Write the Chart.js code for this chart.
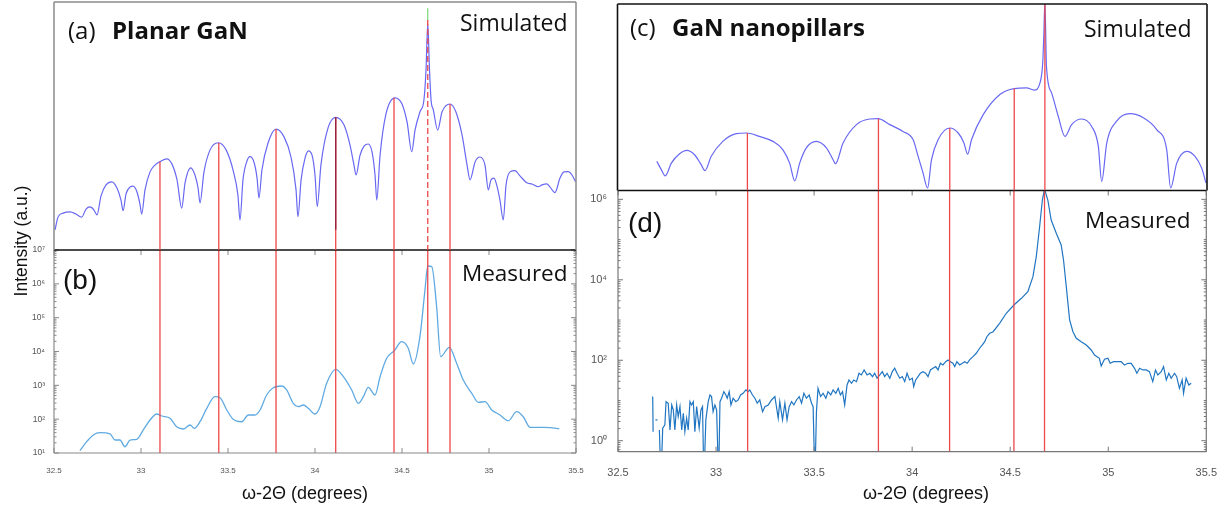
<!DOCTYPE html>
<html>
<head>
<meta charset="utf-8">
<script src="https://cdn.jsdelivr.net/npm/chart.js@4/dist/chart.umd.min.js"></script>
<style>
  html, body { margin: 0; padding: 0; background: #fff; }
  #fig { position: relative; width: 1224px; height: 507px; overflow: hidden; }
  canvas { position: absolute; top: 0; }
  .lbl { position: absolute; white-space: nowrap; line-height: 1; color: #111; }
  .os { font-family: "Open Sans", sans-serif; }
  .ar { font-family: "Liberation Sans", Arial, sans-serif; }
</style>
</head>
<body>
<div id="fig">
  <canvas id="cB" width="600" height="507" style="left:0"></canvas>
  <canvas id="cA" width="600" height="507" style="left:0"></canvas>
  <canvas id="cD" width="644" height="507" style="left:580px"></canvas>
  <canvas id="cC" width="644" height="507" style="left:580px"></canvas>

  <div class="lbl os" style="left:68px;top:18px;font-size:24px">(a)</div>
  <div class="lbl os" style="left:112px;top:18px;font-size:24px;font-weight:700">Planar GaN</div>
  <div class="lbl os" style="left:460px;top:11px;font-size:23px">Simulated</div>
  <div class="lbl ar" style="left:63px;top:266px;font-size:28px">(b)</div>
  <div class="lbl os" style="left:462px;top:262px;font-size:22.5px">Measured</div>

  <div class="lbl os" style="left:630px;top:15px;font-size:24px">(c)</div>
  <div class="lbl os" style="left:672px;top:15px;font-size:24px;font-weight:700">GaN nanopillars</div>
  <div class="lbl os" style="left:1084px;top:17px;font-size:23px">Simulated</div>
  <div class="lbl ar" style="left:628px;top:209px;font-size:28px">(d)</div>
  <div class="lbl os" style="left:1085px;top:209px;font-size:22.5px">Measured</div>

  <div class="lbl ar" style="left:22px;top:241px;font-size:17.5px;transform:translate(-50%,-50%) rotate(-90deg)">Intensity (a.u.)</div>
  <div class="lbl ar" style="left:305px;top:493px;font-size:18px;transform:translate(-50%,-50%)">ω-2Θ (degrees)</div>
  <div class="lbl ar" style="left:926px;top:493px;font-size:18px;transform:translate(-50%,-50%)">ω-2Θ (degrees)</div>
</div>

<script>
// ---- shared axis values ----
const angleTicks = [32.5, 33, 33.5, 34, 34.5, 35, 35.5];
const planarDecades = [1, 2, 3, 4, 5, 6, 7];
const pillarDecades = [0, 2, 4, 6];

// ---- (a) planar GaN, simulated (log10 intensity, arbitrary offset) ----
const simPlanarX = [32.506,32.523,32.552,32.592,32.626,32.659,32.684,32.707,32.730,32.747,
  32.770,32.799,32.832,32.862,32.885,32.897,32.914,32.937,32.954,32.977,
  32.994,33.004,33.023,33.052,33.080,33.109,33.148,33.178,33.207,33.234,
  33.253,33.286,33.310,33.328,33.339,33.362,33.397,33.444,33.489,33.529,
  33.557,33.569,33.586,33.609,33.626,33.649,33.667,33.678,33.695,33.730,
  33.776,33.822,33.862,33.891,33.902,33.920,33.943,33.962,33.983,34.000,
  34.013,34.034,34.075,34.119,34.167,34.201,34.224,34.236,34.259,34.282,
  34.306,34.328,34.345,34.355,34.374,34.408,34.460,34.500,34.529,34.556,
  34.575,34.603,34.626,34.638,34.648,34.658,34.667,34.680,34.705,34.730,
  34.776,34.810,34.845,34.874,34.891,34.920,34.948,34.977,34.996,35.011,
  35.029,35.046,35.063,35.082,35.098,35.121,35.149,35.178,35.217,35.247,
  35.283,35.305,35.332,35.351,35.379,35.408,35.431,35.456,35.477,35.498];
const simPlanarY = [0.65,1.06,1.19,1.23,1.16,1.06,1.32,1.39,1.29,1.13,
  1.74,2.10,2.20,2.00,1.61,1.27,1.81,2.03,2.06,1.87,
  1.48,1.16,1.94,2.52,2.74,2.85,2.94,2.77,2.26,1.35,
  2.16,2.65,2.42,2.00,1.52,2.52,3.23,3.46,3.23,2.58,
  1.77,0.97,2.26,2.87,3.01,2.84,2.32,1.68,2.58,3.45,
  3.90,3.65,3.00,1.94,1.07,2.26,2.97,3.20,3.06,2.42,
  1.40,2.74,3.94,4.28,4.03,3.39,2.74,2.42,3.06,3.35,
  3.42,3.16,2.42,1.61,3.06,4.39,4.91,4.71,4.13,3.17,
  3.87,4.45,4.84,5.81,7.31,5.81,4.84,4.52,3.87,4.45,
  4.71,4.45,3.71,2.74,2.26,2.84,3.00,2.74,1.94,2.26,
  2.32,2.06,1.61,0.97,2.10,2.52,2.56,2.39,2.17,2.13,
  2.04,2.10,2.13,2.03,1.85,2.32,2.52,2.53,2.42,2.20];

// ---- (b) planar GaN, measured counts ----
const measPlanarX = [32.649,32.688,32.726,32.764,32.822,32.851,32.879,32.908,32.937,32.975,
  33.013,33.052,33.090,33.119,33.167,33.205,33.243,33.282,33.306,33.339,
  33.378,33.425,33.454,33.493,33.530,33.579,33.617,33.655,33.684,33.722,
  33.760,33.809,33.837,33.875,33.904,33.933,33.962,34.000,34.029,34.067,
  34.119,34.163,34.211,34.249,34.278,34.306,34.345,34.374,34.412,34.456,
  34.498,34.536,34.565,34.603,34.632,34.648,34.671,34.699,34.722,34.772,
  34.814,34.852,34.901,34.939,34.977,35.016,35.063,35.111,35.159,35.197,
  35.236,35.312,35.351,35.404];
const measPlanarY = [11.7,21.6,34,39.8,36.5,24.2,24.2,15.3,24.2,25.4,
  47.9,94.4,142,124,106,59.8,51.2,67.3,53.7,84.1,
  209,461,431,187,99,84,133,133,187,518,
  851,955,728,294,234,262,209,142,234,1148,
  2979,1799,728,294,461,875,518,1799,6295,10570,
  19500,12450,4276,27400,658000,3370000,3210000,211000,7030,13300,
  4490,1439,582,315,328,187,133,90,166,118,
  57.5,57.5,56,52];

// fringe positions marked on (a)/(b), with the simulated peak height each starts from
const planarFringeX = [33.109, 33.447, 33.776, 34.119, 34.454, 34.648, 34.776];
const planarFringeTop = [2.85, 3.46, 3.90, 4.28, 4.91, 7.42, 4.71];
const planarMainPeak = 5;               // index of the substrate peak (dashed in (a))
const planarPeakTip = [7.42, 7.80];     // short green tip above the substrate peak
const planarDarkFringe = 3;             // fringe drawn darker in its upper part
const planarDarkFloor = 0.65;

// ---- (c) GaN nanopillars, simulated (log10 intensity, arbitrary offset) ----
const simPillarX = [32.700,32.723,32.743,32.774,32.816,32.853,32.892,32.926,32.945,32.977,
  33.036,33.105,33.156,33.223,33.291,33.342,33.376,33.402,33.427,33.461,
  33.512,33.563,33.597,33.609,33.648,33.716,33.784,33.826,33.886,33.953,
  34.004,34.030,34.055,34.078,34.098,34.132,34.191,34.234,34.263,34.282,
  34.302,34.361,34.446,34.519,34.582,34.621,34.650,34.664,34.670,34.675,
  34.683,34.709,34.743,34.777,34.811,34.862,34.913,34.947,34.964,34.990,
  35.040,35.108,35.176,35.244,35.295,35.315,35.346,35.397,35.439,35.473,35.495];
const simPillarY = [0.94,0.67,0.47,0.88,1.18,1.29,1.15,0.83,0.64,1.10,
  1.58,1.83,1.85,1.74,1.58,1.31,0.88,0.31,0.88,1.37,
  1.58,1.37,0.99,0.86,1.53,2.12,2.30,2.31,2.12,1.90,
  1.64,1.10,0.56,0.08,0.99,1.64,2.01,1.85,1.53,1.17,
  1.64,2.44,3.09,3.28,3.30,3.23,3.46,4.11,5.08,6.10,
  4.00,3.14,2.39,1.74,2.12,2.30,2.06,1.42,0.29,1.53,
  2.23,2.47,2.34,1.96,1.31,0.08,0.88,1.26,1.10,0.72,0.24];

// ---- (d) GaN nanopillars, measured counts (null = no reading) ----
const measPillarX = [32.677,32.679,32.685,32.691,32.701,32.706,32.711,32.719,32.728,32.739,
  32.745,32.756,32.765,32.774,32.782,32.790,32.799,32.807,32.816,32.825,
  32.833,32.841,32.850,32.858,32.867,32.875,32.884,32.892,32.901,32.914,
  32.923,32.931,32.938,32.948,32.960,32.969,32.977,32.985,32.994,33.003,
  33.013,33.020,33.028,33.040,33.050,33.057,33.067,33.076,33.087,33.101,
  33.113,33.125,33.138,33.152,33.164,33.172,33.186,33.198,33.210,33.223,
  33.237,33.249,33.266,33.283,33.300,33.317,33.325,33.339,33.351,33.362,
  33.373,33.385,33.397,33.410,33.424,33.436,33.448,33.461,33.475,33.487,
  33.495,33.504,33.512,33.520,33.533,33.546,33.560,33.571,33.585,33.597,
  33.611,33.623,33.634,33.645,33.656,33.668,33.678,33.691,33.702,33.716,
  33.729,33.741,33.755,33.770,33.784,33.798,33.809,33.821,33.835,33.848,
  33.860,33.872,33.886,33.899,33.911,33.923,33.937,33.950,33.962,33.974,
  33.987,34.001,34.008,34.018,34.030,34.042,34.055,34.069,34.081,34.093,
  34.106,34.120,34.132,34.144,34.157,34.171,34.183,34.195,34.208,34.217,
  34.228,34.242,34.256,34.268,34.281,34.293,34.310,34.327,34.344,34.358,
  34.370,34.381,34.395,34.412,34.446,34.480,34.519,34.557,34.590,34.616,
  34.633,34.650,34.664,34.675,34.692,34.709,34.735,34.760,34.772,34.786,
  34.803,34.820,34.837,34.862,34.888,34.913,34.930,34.955,34.964,34.981,
  34.998,35.010,35.027,35.044,35.066,35.083,35.100,35.117,35.134,35.146,
  35.160,35.176,35.194,35.210,35.227,35.241,35.253,35.270,35.282,35.296,
  35.309,35.321,35.338,35.349,35.363,35.377,35.384,35.397,35.411,35.423];
const measPillarY = [12.5,1.68,null,3.29,3.29,null,1.85,0.1,2.05,2.47,
  9.35,8.55,1.85,7.75,5.82,1.85,7.75,3.97,7.03,1.85,
  4.82,1.68,3.62,1.85,9.35,7.75,9.35,1.68,7.03,2.05,
  5.82,7.03,0.1,3.29,9.35,13.7,12.5,5.28,7.75,5.82,
  0.1,9.35,11.4,16.6,13.7,11.4,16.6,7.75,11.4,9.35,
  10.3,13.7,15.1,18.3,16.6,18.3,13.7,11.4,8.55,10.3,
  5.28,7.03,7.75,10.3,12.5,3.62,9.35,3.29,8.55,3.29,
  7.03,9.35,7.75,10.3,12.5,8.55,15.1,11.4,13.7,8.55,
  7.03,0.1,5.28,20.1,12.5,15.1,11.4,16.6,13.7,18.3,
  15.1,20.1,13.7,16.6,7.75,24.3,32.4,26.8,32.4,29.4,
  47.5,43.2,57.4,43.2,47.5,39.2,47.5,35.7,43.2,52.1,
  39.2,47.5,35.7,52.1,63.2,47.5,35.7,39.2,29.4,47.5,
  32.4,35.7,22.1,32.4,39.2,47.5,52.1,47.5,39.2,57.4,
  63.2,69.3,57.4,84.1,76.4,92.3,102,92.3,84.1,69.3,
  92.3,76.4,84.1,92.3,84.1,102,123,149,199,240,
  290,385,469,505,830,1472,2366,3468,5058,11940,
  37500,208000,961000,1800000,961000,306000,143000,73300,31000,6750,
  1002,514,352,290,240,180,135,112,72.3,106,
  112,84,92,92,92,76,84,84,63,47.5,
  63,57.4,57.4,52,29.4,57.4,43.2,52,69.3,32.4,
  47.5,35.7,47.5,39.2,20.1,32.4,15.1,35.7,24.3,26.8];

const pillarFringeX = [33.161, 33.828, 34.191, 34.519, 34.675];
const pillarFringeTop = [1.85, 2.31, 2.01, 3.28, 6.0];

// ---- styling ----
const SIM_BLUE = 'rgb(104,104,242)';
const RED = 'rgb(238,72,74)';
const SUP = {'0':'⁰','1':'¹','2':'²','3':'³','4':'⁴','5':'⁵','6':'⁶','7':'⁷','8':'⁸','9':'⁹','-':'⁻'};
const powLabel = v => '10' + String(Math.round(Math.log10(v))).split('').map(c => SUP[c]).join('');

const zip = (xs, ys) => xs.map((x, i) => ({ x, y: ys[i] }));

// vertical marker segments from each top value down to a common floor
function markerData(xs, tops, floor) {
  const out = [];
  xs.forEach((x, i) => { out.push({ x, y: tops[i] }, { x, y: floor }, { x, y: null }); });
  return out;
}

function minorLog(lo, hi, skip) {
  const out = [];
  for (let e = Math.floor(lo); e <= Math.ceil(hi); e++) {
    for (let m = 1; m <= 9; m++) {
      const v = m * Math.pow(10, e);
      const lv = Math.log10(v);
      if (lv < lo || lv > hi) continue;
      if (m === 1 && skip.includes(e)) continue;
      out.push(v);
    }
  }
  return out;
}

// frame + inward tick marks for one panel
function framePlugin(spec) {
  return {
    id: 'frame',
    afterDraw(chart) {
      const { ctx, chartArea: a } = chart;
      const sx = chart.scales.x, sy = chart.scales.y;
      const seg = (x1, y1, x2, y2) => { ctx.beginPath(); ctx.moveTo(x1, y1); ctx.lineTo(x2, y2); ctx.stroke(); };
      ctx.save();
      ctx.strokeStyle = spec.tickColor || '#777';
      ctx.lineWidth = 1;
      (spec.xTicks || []).forEach(v => {
        const p = sx.getPixelForValue(v);
        if (spec.xIn) seg(p, a.bottom, p, a.bottom - spec.xIn);
        if (spec.xTop) seg(p, a.top, p, a.top + spec.xTop);
      });
      (spec.yMajor || []).forEach(v => {
        const p = sy.getPixelForValue(v);
        seg(a.left, p, a.left + spec.yIn, p);
        seg(a.right, p, a.right - spec.yIn, p);
      });
      (spec.yMinor || []).forEach(v => {
        const p = sy.getPixelForValue(v);
        seg(a.left, p, a.left + spec.yMinorIn, p);
        seg(a.right, p, a.right - spec.yMinorIn, p);
      });
      const edges = {
        left: [a.left, a.top, a.left, a.bottom],
        right: [a.right, a.top, a.right, a.bottom],
        bottom: [a.left, a.bottom, a.right, a.bottom],
        top: [a.left, a.top, a.right, a.top]
      };
      ['left', 'right', 'bottom', 'top'].forEach(side => {
        const e = spec[side];
        if (!e) return;
        ctx.strokeStyle = e[0];
        ctx.lineWidth = e[1];
        seg(...edges[side]);
      });
      ctx.restore();
    }
  };
}

const base = {
  responsive: false,
  animation: false,
  devicePixelRatio: 1,
  events: [],
  plugins: { legend: { display: false }, tooltip: { enabled: false } },
  elements: { point: { radius: 0 } }
};

function xAxis(extra) {
  return Object.assign({
    type: 'linear', min: 32.5, max: 35.5,
    grid: { display: false }, border: { display: false }
  }, extra);
}

// ---------- (a) ----------
new Chart(document.getElementById('cA'), {
  type: 'line',
  data: {
    datasets: [
      { data: markerData([planarFringeX[planarMainPeak]], [planarFringeTop[planarMainPeak]], 0),
        borderColor: RED, borderWidth: 1.3, borderDash: [6, 3], spanGaps: false },
      { data: [{ x: planarFringeX[planarMainPeak], y: planarPeakTip[1] }, { x: planarFringeX[planarMainPeak], y: planarPeakTip[0] }],
        borderColor: 'rgb(120,215,120)', borderWidth: 1.2 },
      { data: markerData([planarFringeX[planarDarkFringe]], [planarFringeTop[planarDarkFringe]], planarDarkFloor),
        borderColor: 'rgb(150,36,62)', borderWidth: 1.4, spanGaps: false },
      { data: markerData(planarFringeX.filter((_, i) => i !== planarMainPeak),
                         planarFringeTop.filter((_, i) => i !== planarMainPeak), 0),
        borderColor: RED, borderWidth: 1.3, spanGaps: false },
      { data: zip(simPlanarX, simPlanarY), borderColor: SIM_BLUE, borderWidth: 1.2,
        cubicInterpolationMode: 'monotone' }
    ]
  },
  options: Object.assign({}, base, {
    layout: { padding: { left: 54, right: 24, top: 2, bottom: 257 } },
    scales: {
      x: xAxis({ display: false }),
      y: { type: 'linear', min: 0, max: 8, display: false }
    }
  }),
  plugins: [framePlugin({ left: ['#8a8a8a', 1.5], right: ['#8a8a8a', 1.5], top: ['#8a8a8a', 1.5] })]
});

// ---------- (b) ----------
new Chart(document.getElementById('cB'), {
  type: 'line',
  data: {
    datasets: [
      { data: markerData(planarFringeX, planarFringeX.map(() => 1e7), 10),
        borderColor: RED, borderWidth: 1.3, spanGaps: false },
      { data: zip(measPlanarX, measPlanarY), borderColor: 'rgb(96,170,226)', borderWidth: 1.3,
        cubicInterpolationMode: 'monotone' }
    ]
  },
  options: Object.assign({}, base, {
    layout: { padding: { left: 0, right: 24, top: 250, bottom: 0 } },
    scales: {
      x: xAxis({
        afterFit: s => { s.height = 54; },
        afterBuildTicks: s => { s.ticks = angleTicks.map(v => ({ value: v })); },
        ticks: { autoSkip: false, maxRotation: 0, padding: 5, color: '#555',
                 font: { family: 'Liberation Sans, Arial, sans-serif', size: 8 },
                 callback: v => String(v) }
      }),
      y: {
        type: 'logarithmic', min: 10, max: 1e7,
        grid: { display: false }, border: { display: false },
        afterFit: s => { s.width = 54; },
        afterBuildTicks: s => { s.ticks = planarDecades.map(e => ({ value: Math.pow(10, e) })); },
        ticks: { padding: 1, color: '#555', autoSkip: false,
                 font: { family: 'Liberation Sans, Arial, sans-serif', size: 8.5 },
                 callback: v => powLabel(v) }
      }
    }
  }),
  plugins: [framePlugin({
    xTicks: angleTicks, xIn: 5, xTop: 5,
    yMajor: planarDecades.map(e => Math.pow(10, e)), yIn: 5,
    yMinor: minorLog(1, 7, planarDecades), yMinorIn: 2.5,
    tickColor: '#8a8a8a',
    left: ['#8a8a8a', 1.2], right: ['#8a8a8a', 1.2], bottom: ['#8a8a8a', 1.2], top: ['#111', 1.6]
  })]
});

// ---------- (c) ----------
new Chart(document.getElementById('cC'), {
  type: 'line',
  data: {
    datasets: [
      { data: markerData(pillarFringeX, pillarFringeTop, 0),
        borderColor: RED, borderWidth: 1.3, spanGaps: false },
      { data: zip(simPillarX, simPillarY), borderColor: SIM_BLUE, borderWidth: 1.2,
        cubicInterpolationMode: 'monotone' }
    ]
  },
  options: Object.assign({}, base, {
    layout: { padding: { left: 37.5, right: 17, top: 4, bottom: 316.5 } },
    scales: {
      x: xAxis({ display: false }),
      y: { type: 'linear', min: 0, max: 6, display: false }
    }
  }),
  plugins: [framePlugin({ left: ['#111', 1.6], right: ['#111', 1.6], top: ['#111', 1.6] })]
});

// ---------- (d) ----------
const pillarMin = 0.533, pillarMax = 1.66e6;
new Chart(document.getElementById('cD'), {
  type: 'line',
  data: {
    datasets: [
      { data: markerData(pillarFringeX, pillarFringeX.map(() => pillarMax), pillarMin),
        borderColor: RED, borderWidth: 1.3, spanGaps: false },
      { data: zip(measPillarX, measPillarY), borderColor: 'rgb(32,118,194)', borderWidth: 1.2,
        tension: 0, spanGaps: false }
    ]
  },
  options: Object.assign({}, base, {
    layout: { padding: { left: 0, right: 17, top: 190.5, bottom: 0 } },
    scales: {
      x: xAxis({
        afterFit: s => { s.height = 55.3; },
        afterBuildTicks: s => { s.ticks = angleTicks.map(v => ({ value: v })); },
        ticks: { autoSkip: false, maxRotation: 0, padding: 7, color: '#555',
                 font: { family: 'Liberation Sans, Arial, sans-serif', size: 11 },
                 callback: v => String(v) }
      }),
      y: {
        type: 'logarithmic', min: pillarMin, max: pillarMax,
        grid: { display: false }, border: { display: false },
        afterFit: s => { s.width = 38; },
        afterBuildTicks: s => { s.ticks = pillarDecades.map(e => ({ value: Math.pow(10, e) })); },
        ticks: { padding: 3, color: '#555', autoSkip: false,
                 font: { family: 'Liberation Sans, Arial, sans-serif', size: 11 },
                 callback: v => powLabel(v) }
      }
    }
  }),
  plugins: [framePlugin({
    xTicks: angleTicks, xIn: 5, xTop: 5,
    yMajor: pillarDecades.map(e => Math.pow(10, e)), yIn: 5,
    yMinor: minorLog(Math.log10(pillarMin), Math.log10(pillarMax), pillarDecades), yMinorIn: 2.5,
    tickColor: '#777',
    left: ['#777', 1.2], right: ['#777', 1.2], bottom: ['#777', 1.2], top: ['#111', 1.6]
  })]
});
</script>
</body>
</html>
